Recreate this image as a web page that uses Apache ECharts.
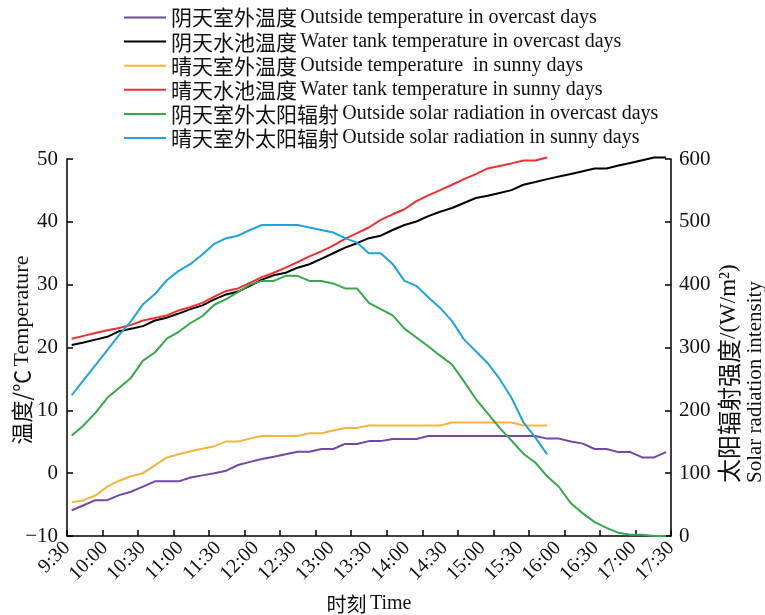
<!DOCTYPE html>
<html><head><meta charset="utf-8">
<script src="https://cdn.jsdelivr.net/npm/echarts@6/dist/echarts.min.js"></script>
<style>html,body{margin:0;padding:0;background:#fff}#c{width:765px;height:615px}</style>
</head><body><div id="c"></div>
<script>
// Tick labels of the time axis
const timeLabels = ['9:30','10:00','10:30','11:00','11:30','12:00','12:30','13:00','13:30','14:00','14:30','15:00','15:30','16:00','16:30','17:00','17:30'];
// The bottom axis carries 17 tick intervals (18 tick slots, no text)
const tickSlots = ['', '', '', '', '', '', '', '', '', '', '', '', '', '', '', '', '', ''];

// Series names
const seriesNames = [
  '阴天室外温度 Outside temperature in overcast days',
  '阴天水池温度 Water tank temperature in overcast days',
  '晴天室外温度 Outside temperature  in sunny days',
  '晴天水池温度 Water tank temperature in sunny days',
  '阴天室外太阳辐射 Outside solar radiation in overcast days',
  '晴天室外太阳辐射 Outside solar radiation in sunny days'
];

// Values (one sample per step); null = no data
const overcastOutsideTemp = [-5.9,-5.1,-4.3,-4.3,-3.5,-2.95,-2.15,-1.3,-1.3,-1.3,
  -0.7,-0.35,0.0,0.4,1.3,1.8,2.25,2.6,3.0,3.4,
  3.4,3.85,3.85,4.65,4.65,5.1,5.1,5.45,5.45,5.45,
  5.9,5.9,5.9,5.9,5.9,5.9,5.9,5.9,5.9,5.9,
  5.5,5.5,5.05,4.7,3.85,3.85,3.35,3.35,2.5,2.5,3.35];
const overcastTankTemp = [20.4,20.8,21.25,21.7,22.6,23.0,23.4,24.3,24.75,25.4,
  26.1,26.7,27.65,28.45,28.9,29.8,30.8,31.5,31.9,32.7,
  33.25,34.1,35.0,35.9,36.6,37.4,37.8,38.7,39.5,40.05,
  40.9,41.6,42.2,43.0,43.8,44.15,44.6,45.05,45.9,46.35,
  46.8,47.2,47.6,48.05,48.5,48.5,48.95,49.35,49.8,50.25,50.25];
const sunnyOutsideTemp = [-4.65,-4.3,-3.55,-2.15,-1.2,-0.5,0.0,1.25,2.5,3.0,
  3.5,3.9,4.3,5.05,5.05,5.5,5.9,5.9,5.9,5.9,
  6.35,6.35,6.8,7.2,7.2,7.6,7.6,7.6,7.6,7.6,
  7.6,7.6,8.05,8.05,8.05,8.05,8.05,8.05,7.6,7.6,7.6,
  null,null,null,null,null,null,null,null,null,null];
const sunnyTankTemp = [21.4,21.85,22.3,22.75,23.1,23.6,24.3,24.7,25.1,25.9,
  26.45,27.1,28.1,29.0,29.4,30.3,31.2,31.9,32.7,33.6,
  34.5,35.3,36.2,37.3,38.2,39.1,40.3,41.2,42.0,43.3,
  44.2,45.05,45.9,46.8,47.6,48.5,48.9,49.3,49.75,49.75,50.25,
  null,null,null,null,null,null,null,null,null,null];
const overcastSolar = [160,176,196,220,236,252,279,292,314,325,
  339,350,368,377,388,400,406,406,414,414,
  406,406,402,394,394,371,361,351,330,316,
  302,287,273,246,218,195,172,152,131,117,
  95,78,52,36,22,13,5,2,2,0,0];
const sunnySolar = [224,248,272,296,320,342,369,385,407,422,
  433,448,465,474,478,487,495,495,495,495,
  491,487,483,474,467,450,450,433,406,398,
  380,363,342,313,294,275,250,220,181,157,130,
  null,null,null,null,null,null,null,null,null,null];

const LAT = '"Liberation Serif", "Times New Roman", serif';
const CJK = '"Noto Sans CJK SC", sans-serif';
const pts = arr => arr.map((v, i) => [i, v]).filter(p => p[1] !== null);
const minusFmt = v => String(v).replace('-', '\u2212');

const colors = ['#7446a6', '#000000', '#f7b33b', '#ee2f2f', '#36a84b', '#1fa3de'];
const dataSets = [overcastOutsideTemp, overcastTankTemp, sunnyOutsideTemp, sunnyTankTemp, overcastSolar, sunnySolar];
const yIdx = [0, 0, 0, 0, 1, 1];

const series = seriesNames.map((name, k) => ({
  name, type: 'line', xAxisIndex: 0, yAxisIndex: yIdx[k],
  data: pts(dataSets[k]), symbol: 'none', clip: false, silent: true,
  lineStyle: { color: colors[k], width: 2 }, itemStyle: { color: colors[k] }
}));

const mkLine = () => ({ show: true, onZero: false, lineStyle: { color: '#000', width: 1.5 } });
const mkTick = () => ({ show: true, inside: true, length: 6, interval: 0, lineStyle: { color: '#000', width: 1.5 } });

const chart = echarts.init(document.getElementById('c'), null, { renderer: 'canvas' });
chart.setOption({
  animation: false,
  backgroundColor: '#fff',
  color: colors,
  grid: { left: 67, right: 94, top: 159, bottom: 79, containLabel: false, outerBoundsMode: 'none' },
  legend: {
    orient: 'vertical', left: 119, top: 2,
    icon: 'rect', itemWidth: 42, itemHeight: 2, itemGap: 3.1,
    data: seriesNames,
    formatter: name => {
      const s = name.indexOf(' ');
      return '{c|' + name.slice(0, s) + '} {e|' + name.slice(s + 1) + '}';
    },
    textStyle: {
      color: '#111', lineHeight: 20,
      rich: {
        c: { fontFamily: CJK, fontSize: 21, lineHeight: 20, color: '#111' },
        e: { fontFamily: LAT, fontSize: 20, lineHeight: 20, color: '#111' }
      }
    }
  },
  xAxis: [
    { type: 'value', show: false, min: -0.395, max: 50.42, position: 'bottom', axisLine: { onZero: false } },
    { type: 'category', data: tickSlots, boundaryGap: false, position: 'bottom',
      axisLine: mkLine(), axisTick: mkTick(), axisLabel: { show: false }, splitLine: { show: false } },
    { type: 'category', data: timeLabels, boundaryGap: false, position: 'bottom',
      axisLine: { show: false, onZero: false }, axisTick: { show: false }, splitLine: { show: false },
      axisLabel: { rotate: 45, margin: 9, interval: 0, fontFamily: LAT, fontSize: 20, color: '#111' } }
  ],
  yAxis: [
    { type: 'value', min: -10, max: 50, interval: 10, position: 'left',
      axisLine: mkLine(), axisTick: mkTick(), splitLine: { show: false },
      axisLabel: { formatter: minusFmt, margin: 9, fontFamily: LAT, fontSize: 21, color: '#111' } },
    { type: 'value', min: 0, max: 600, interval: 100, position: 'right',
      axisLine: mkLine(), axisTick: mkTick(), splitLine: { show: false },
      axisLabel: { margin: 8, fontFamily: LAT, fontSize: 21, color: '#111' } }
  ],
  graphic: [
    { type: 'text', x: 22, y: 350, rotation: Math.PI / 2, silent: true,
      style: { text: '{c|温度/℃} {e|Temperature}', textAlign: 'center', textVerticalAlign: 'middle',
        rich: { c: { fontFamily: CJK, fontSize: 22, fill: '#111' }, e: { fontFamily: LAT, fontSize: 22, fill: '#111' } } } },
    { type: 'text', x: 729, y: 483, rotation: Math.PI / 2, silent: true,
      style: { text: '{c|太阳辐射强度}{e|/(W/m²)}', textAlign: 'left', textVerticalAlign: 'middle',
        rich: { c: { fontFamily: CJK, fontSize: 24, fill: '#111' }, e: { fontFamily: LAT, fontSize: 23, fill: '#111' } } } },
    { type: 'text', x: 755, y: 483, rotation: Math.PI / 2, silent: true,
      style: { text: 'Solar radiation intensity', textAlign: 'left', textVerticalAlign: 'middle',
        fontFamily: LAT, fontSize: 21, fill: '#111' } },
    { type: 'text', x: 369, y: 604, silent: true,
      style: { text: '{c|时刻} {e|Time}', textAlign: 'center', textVerticalAlign: 'middle',
        rich: { c: { fontFamily: CJK, fontSize: 20, fill: '#111' }, e: { fontFamily: LAT, fontSize: 20, fill: '#111' } } } }
  ],
  series
});
</script></body></html>
